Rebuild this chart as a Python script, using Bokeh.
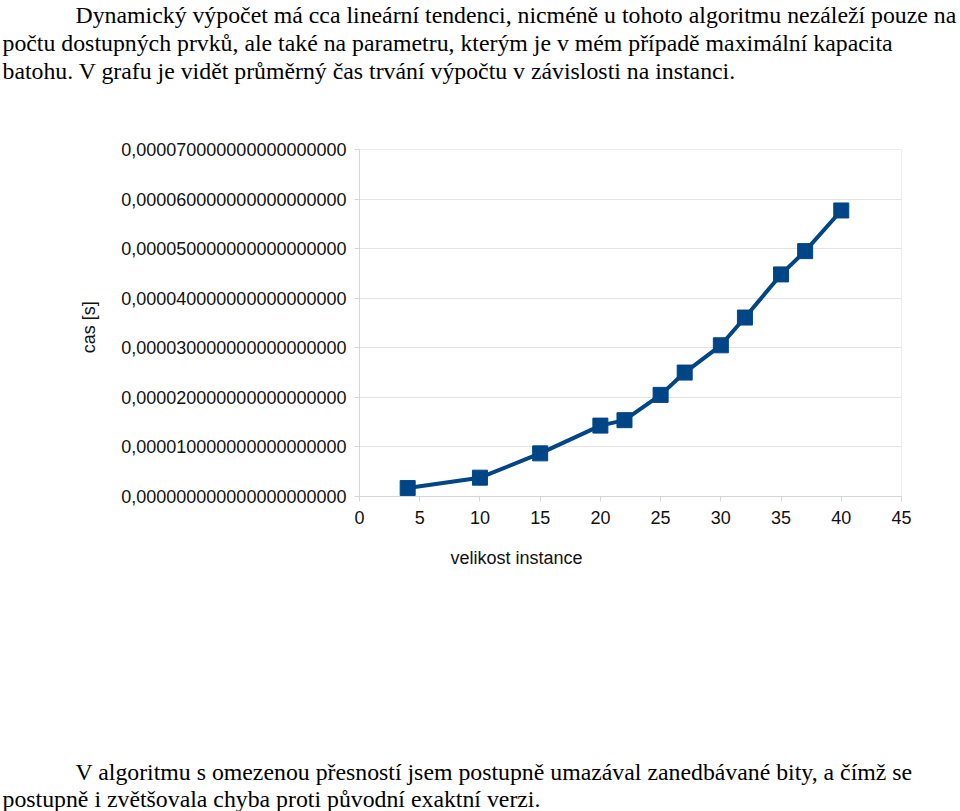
import math
from bokeh.plotting import figure
from bokeh.layouts import column, row
from bokeh.models import Range1d, FixedTicker, CustomJSTickFormatter, ColumnDataSource
from bokeh.core.properties import value
from bokeh.embed import file_html
from bokeh.resources import INLINE

# ---- data ----
instance_size = [4, 10, 15, 20, 22, 25, 27, 30, 32, 35, 37, 40]
time_s = [1.7e-6, 3.8e-6, 8.7e-6, 1.43e-5, 1.54e-5, 2.05e-5, 2.50e-5,
          3.05e-5, 3.61e-5, 4.48e-5, 4.95e-5, 5.77e-5]

x_ticks = [0, 5, 10, 15, 20, 25, 30, 35, 40, 45]
y_ticks = [0, 1e-5, 2e-5, 3e-5, 4e-5, 5e-5, 6e-5, 7e-5]
y_tick_labels = [
    "0,000000000000000000000",
    "0,000010000000000000000",
    "0,000020000000000000000",
    "0,000030000000000000000",
    "0,000040000000000000000",
    "0,000050000000000000000",
    "0,000060000000000000000",
    "0,000070000000000000000",
]
x_title = "velikost instance"
y_title = "cas [s]"

top_lines = [
    "Dynamický výpočet má cca lineární tendenci, nicméně u tohoto algoritmu nezáleží pouze na",
    "počtu dostupných prvků, ale také na parametru, kterým je v mém případě maximální kapacita",
    "batohu. V grafu je vidět průměrný čas trvání výpočtu v závislosti na instanci.",
]
bottom_lines = [
    "V algoritmu s omezenou přesností jsem postupně umazával zanedbávané bity, a čímž se",
    "postupně i zvětšovala chyba proti původní exaktní verzi.",
]

# ---- layout (pixels) ----
W, H = 960, 811
TOP_H = 120          # text block above chart
CHART_H = 420        # chart strip
LEFT_W = 110         # strip holding the y title
BOT_H = H - TOP_H - CHART_H
FL, FR, FT, FB = 359, 901, 149, 496   # plot frame in page pixels

TEXT_FONT = "Liberation Serif"
TEXT_SIZE = "23.8px"
CHART_FONT = "Liberation Sans"
LINE_COLOR = "#004586"


def blank(width, height, top):
    """A figure whose frame fills the canvas; y measured downward from page top."""
    f = figure(width=width, height=height, output_backend="svg",
               toolbar_location=None, x_axis_type=None, y_axis_type=None,
               x_range=Range1d(0, width), y_range=Range1d(top + height, top),
               min_border=0, outline_line_color=None)
    f.background_fill_color = "white"
    f.border_fill_color = "white"
    return f


# ---- top paragraph ----
top = blank(W, TOP_H, 0)
top.text(x=[75, 2, 2], y=[14, 42, 70], text=top_lines,
         text_font=value(TEXT_FONT), text_font_size=value(TEXT_SIZE),
         text_color="black", text_align="left", text_baseline="middle")

# ---- y title strip ----
left = blank(LEFT_W, CHART_H, TOP_H)
left.text(x=[88], y=[335], text=[y_title], angle=math.pi / 2,
          text_font=value(CHART_FONT), text_font_size=value("18px"),
          text_color="#111111", text_align="center", text_baseline="middle")

# ---- chart ----
p = figure(width=W - LEFT_W, height=CHART_H, output_backend="svg",
           toolbar_location=None,
           x_range=Range1d(0, 45), y_range=Range1d(0, 7e-5),
           min_border_left=FL - LEFT_W, min_border_right=W - FR,
           min_border_top=FT - TOP_H, min_border_bottom=TOP_H + CHART_H - FB)
p.background_fill_color = "white"
p.border_fill_color = "white"
p.outline_line_color = "#ececec"
p.xgrid.grid_line_color = None
p.ygrid.grid_line_color = "#e3e3e3"

for ax in (p.xaxis[0], p.yaxis[0]):
    ax.axis_line_color = "#d6d6d6"
    ax.major_tick_line_color = "#d6d6d6"
    ax.minor_tick_line_color = None
    ax.major_tick_in = 0
    ax.major_tick_out = 5
    ax.major_label_text_font = CHART_FONT
    ax.major_label_text_font_size = "18px"
    ax.major_label_text_color = "#111111"

p.xaxis.ticker = FixedTicker(ticks=x_ticks)
p.xaxis.major_label_standoff = 9
p.yaxis.ticker = FixedTicker(ticks=y_ticks)
p.yaxis.major_label_standoff = 8
p.yaxis.formatter = CustomJSTickFormatter(
    args=dict(labels=y_tick_labels),
    code="const i = Math.round(tick / 1e-5); return labels[i];")

src = ColumnDataSource(dict(x=instance_size, y=time_s))
p.line("x", "y", source=src, line_color=LINE_COLOR, line_width=4)
p.scatter("x", "y", source=src, marker="square", size=15,
          fill_color=LINE_COLOR, line_color=LINE_COLOR)

# ---- bottom: x title and paragraph ----
bot = blank(W, BOT_H, TOP_H + CHART_H)
bot.text(x=[516], y=[557], text=[x_title],
         text_font=value(CHART_FONT), text_font_size=value("18px"),
         text_color="#111111", text_align="center", text_baseline="middle")
bot.text(x=[75, 2], y=[771, 798], text=bottom_lines,
         text_font=value(TEXT_FONT), text_font_size=value(TEXT_SIZE),
         text_color="black", text_align="left", text_baseline="middle")

page = column(top, row(left, p, spacing=0), bot, spacing=0)
open("out.html", "w").write(file_html(page, INLINE))
